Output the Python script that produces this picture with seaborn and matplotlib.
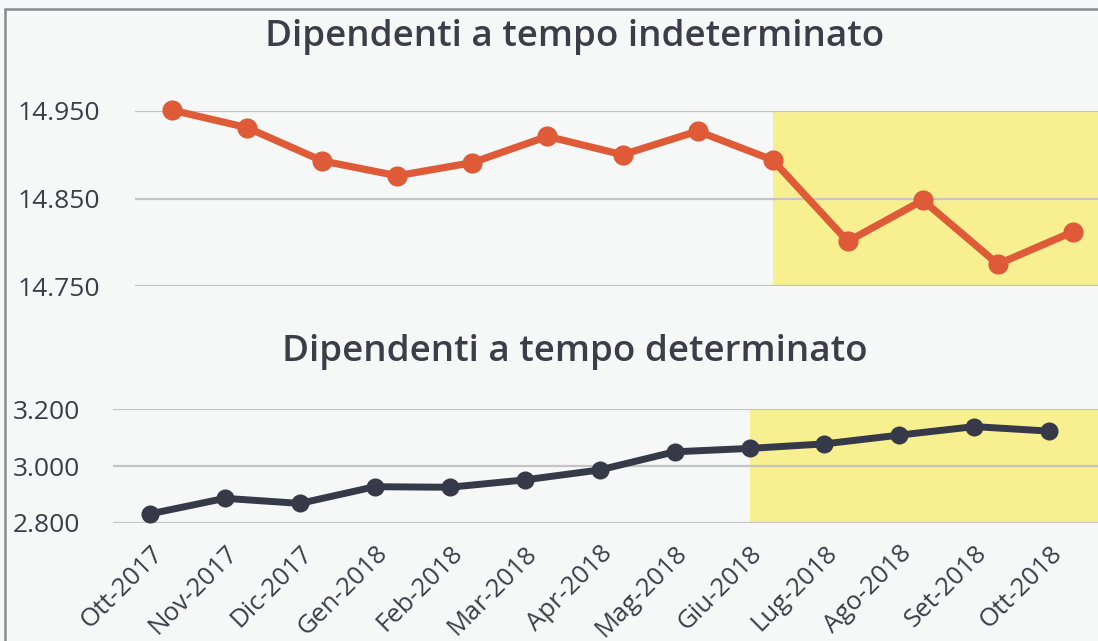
import numpy as np
import pandas as pd
import matplotlib.pyplot as plt
import seaborn as sns
from matplotlib.patches import Rectangle

# mesi e valori (migliaia)
mesi = ["Ott-2017", "Nov-2017", "Dic-2017", "Gen-2018", "Feb-2018", "Mar-2018", "Apr-2018",
        "Mag-2018", "Giu-2018", "Lug-2018", "Ago-2018", "Set-2018", "Ott-2018"]
indeterminato = [14.951, 14.931, 14.893, 14.876, 14.891, 14.921, 14.900,
                 14.927, 14.894, 14.801, 14.848, 14.775, 14.812]
determinato = [2.831, 2.886, 2.868, 2.927, 2.925, 2.951, 2.986,
               3.050, 3.062, 3.078, 3.109, 3.139, 3.123]
ticks_ind = [14.750, 14.850, 14.950]
ticks_det = [2.800, 3.000, 3.200]
inizio_evidenza = 8  # Giu-2018

sns.set_theme(style="white")
plt.rcParams['font.family'] = ['Open Sans', 'DejaVu Sans']

bg = "#f6f7f7"
txt = "#3b3d48"
yellow = "#f8ef91"
grid = "#c4c4c4"

fig = plt.figure(figsize=(10.98, 6.41), dpi=100)
fig.patch.set_facecolor(bg)
# cornice (visibile solo a sinistra e in alto)
fig.patches.append(Rectangle((5 / 1098, -0.1), 1.2, 1.1 - 9 / 641, transform=fig.transFigure,
                             fill=False, edgecolor="#8a8a8e", linewidth=1.8))

df = pd.DataFrame({"mese": mesi, "ind": indeterminato, "det": determinato})
x = np.arange(len(mesi))


def pannello(ax, col, colore, ticks, xlim_right, ms, lw, pad):
    ax.set_facecolor(bg)
    ax.axvspan(inizio_evidenza, xlim_right, ymin=0, ymax=1, color=yellow, zorder=0, lw=0)
    for t in ticks:
        ax.axhline(t, color=grid, lw=1.6, zorder=1)
    sns.lineplot(x=x, y=df[col], ax=ax, color=colore, lw=lw, marker="o",
                 markersize=ms, markeredgewidth=0, zorder=3, clip_on=False)
    ax.set_xlim(-0.5, xlim_right)
    ax.set_ylim(ticks[0], ticks[-1])
    ax.set_yticks(ticks)
    ax.set_yticklabels([f"{t:.3f}" for t in ticks], fontsize=19, color=txt, fontweight="medium")
    ax.tick_params(axis="y", length=0, pad=pad)
    ax.set_xlabel("")
    ax.set_ylabel("")
    for s in ax.spines.values():
        s.set_visible(False)


ax1 = fig.add_axes([134.5 / 1098, 1 - 286 / 641, 976 / 1098, 175 / 641])
pannello(ax1, "ind", "#df5a37", ticks_ind, 12.5, 14.5, 5.2, 25)
ax1.set_xticks([])

ax2 = fig.add_axes([112.5 / 1098, 1 - 522.7 / 641, 985.5 / 1098, 113.4 / 641])
pannello(ax2, "det", "#363948", ticks_det, 12.65, 13, 5.0, 23.5)
ax2.set_xticks(x)
ax2.set_xticklabels(mesi, rotation=45, ha="right", rotation_mode="anchor",
                    fontsize=18.5, color=txt, fontweight="medium")
ax2.tick_params(axis="x", length=0, pad=13)

fig.text(575 / 1098, 1 - 37 / 641, "Dipendenti a tempo indeterminato", ha="center", va="center",
         fontsize=26.5, color=txt, fontweight="semibold")
fig.text(575 / 1098, 1 - 352 / 641, "Dipendenti a tempo determinato", ha="center", va="center",
         fontsize=26.5, color=txt, fontweight="semibold")

fig.savefig("out.png", dpi=100, facecolor=bg)
